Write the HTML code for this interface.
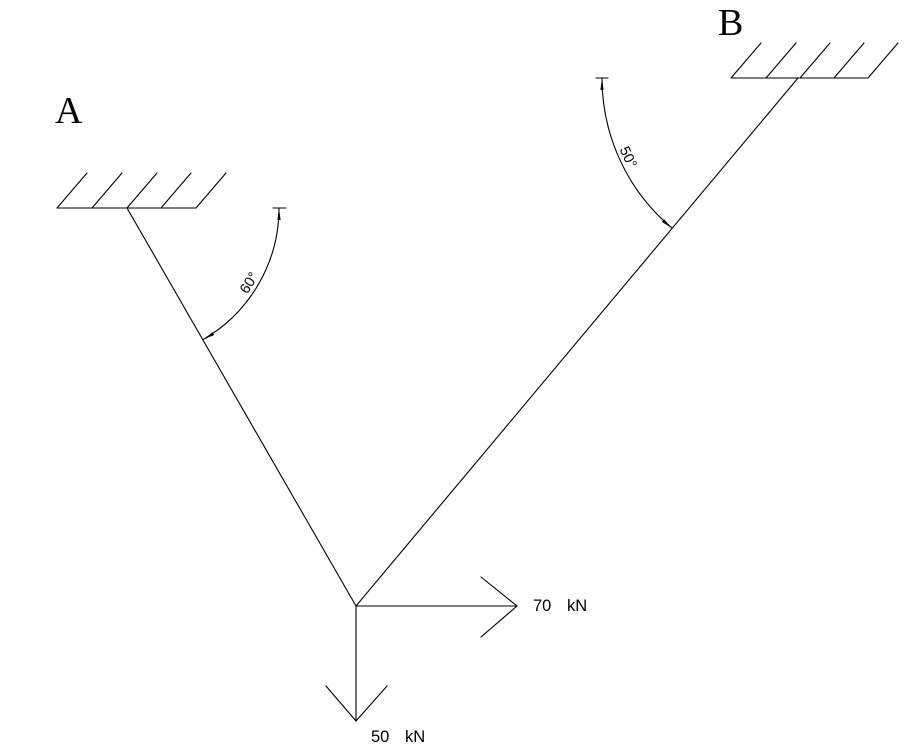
<!DOCTYPE html>
<html>
<head>
<meta charset="utf-8">
<style>
html,body{margin:0;padding:0;background:#fff;}
svg{display:block;}
</style>
</head>
<body>
<svg width="910" height="753" viewBox="0 0 910 753" xmlns="http://www.w3.org/2000/svg">
<rect width="910" height="753" fill="#fff"/>
<g stroke="#000" stroke-width="1.1" fill="none" stroke-linecap="round">
  <!-- Support A -->
  <line x1="57" y1="208" x2="196" y2="208"/>
  <line x1="57" y1="208" x2="87" y2="173"/>
  <line x1="92" y1="208" x2="122" y2="173"/>
  <line x1="127" y1="208" x2="157" y2="173"/>
  <line x1="161" y1="208" x2="191" y2="173"/>
  <line x1="196" y1="208" x2="226" y2="173"/>
  <!-- Support B -->
  <line x1="731" y1="78" x2="868" y2="78"/>
  <line x1="731" y1="78" x2="761" y2="43"/>
  <line x1="766" y1="78" x2="796" y2="43"/>
  <line x1="800" y1="78" x2="830" y2="43"/>
  <line x1="834" y1="78" x2="864" y2="43"/>
  <line x1="868" y1="78" x2="898" y2="43"/>
  <!-- Members -->
  <line x1="127" y1="208" x2="356" y2="606"/>
  <line x1="356" y1="606" x2="798" y2="78"/>
  <!-- Dimension arc A -->
  <path d="M 279 208 A 152 152 0 0 1 203 339.6"/>
  <line x1="273" y1="208" x2="286" y2="208"/>
  <!-- Dimension arc B -->
  <path d="M 602 78 A 196 196 0 0 0 672 228.1"/>
  <line x1="596" y1="78" x2="608" y2="78"/>
  <!-- Forces -->
  <line x1="356" y1="606" x2="517" y2="606"/>
  <polyline points="481,577 517,606 481,637"/>
  <line x1="356" y1="606" x2="356" y2="721"/>
  <polyline points="326,686 356,721 387,686"/>
</g>
<!-- arrowheads -->
<g fill="#000" stroke="none">
  <polygon points="279,208 277.4,220 280.6,220"/>
  <polygon points="203,339.6 212.6,332.2 214.2,335"/>
  <polygon points="602,78 600.4,90 603.6,90"/>
  <polygon points="672,228.1 662,222 664,219.2"/>
</g>
<!-- Labels -->
<text x="55" y="123" font-family="Liberation Serif, serif" font-size="38" fill="#000">A</text>
<text x="718" y="35" font-family="Liberation Serif, serif" font-size="38" fill="#000">B</text>
<text x="0" y="0" font-family="Liberation Sans, sans-serif" font-size="14.5" fill="#000" text-anchor="middle" transform="translate(253.1,285.3) rotate(-58.5)">60°</text>
<text x="0" y="0" font-family="Liberation Sans, sans-serif" font-size="14.5" fill="#000" text-anchor="middle" transform="translate(624,159.2) rotate(65)">50°</text>
<g font-family="Liberation Sans, sans-serif" font-size="16.5" fill="#000">
  <text x="533" y="611">70</text>
  <text x="567" y="611">kN</text>
  <text x="371" y="742">50</text>
  <text x="405" y="742">kN</text>
</g>
</svg>
</body>
</html>
